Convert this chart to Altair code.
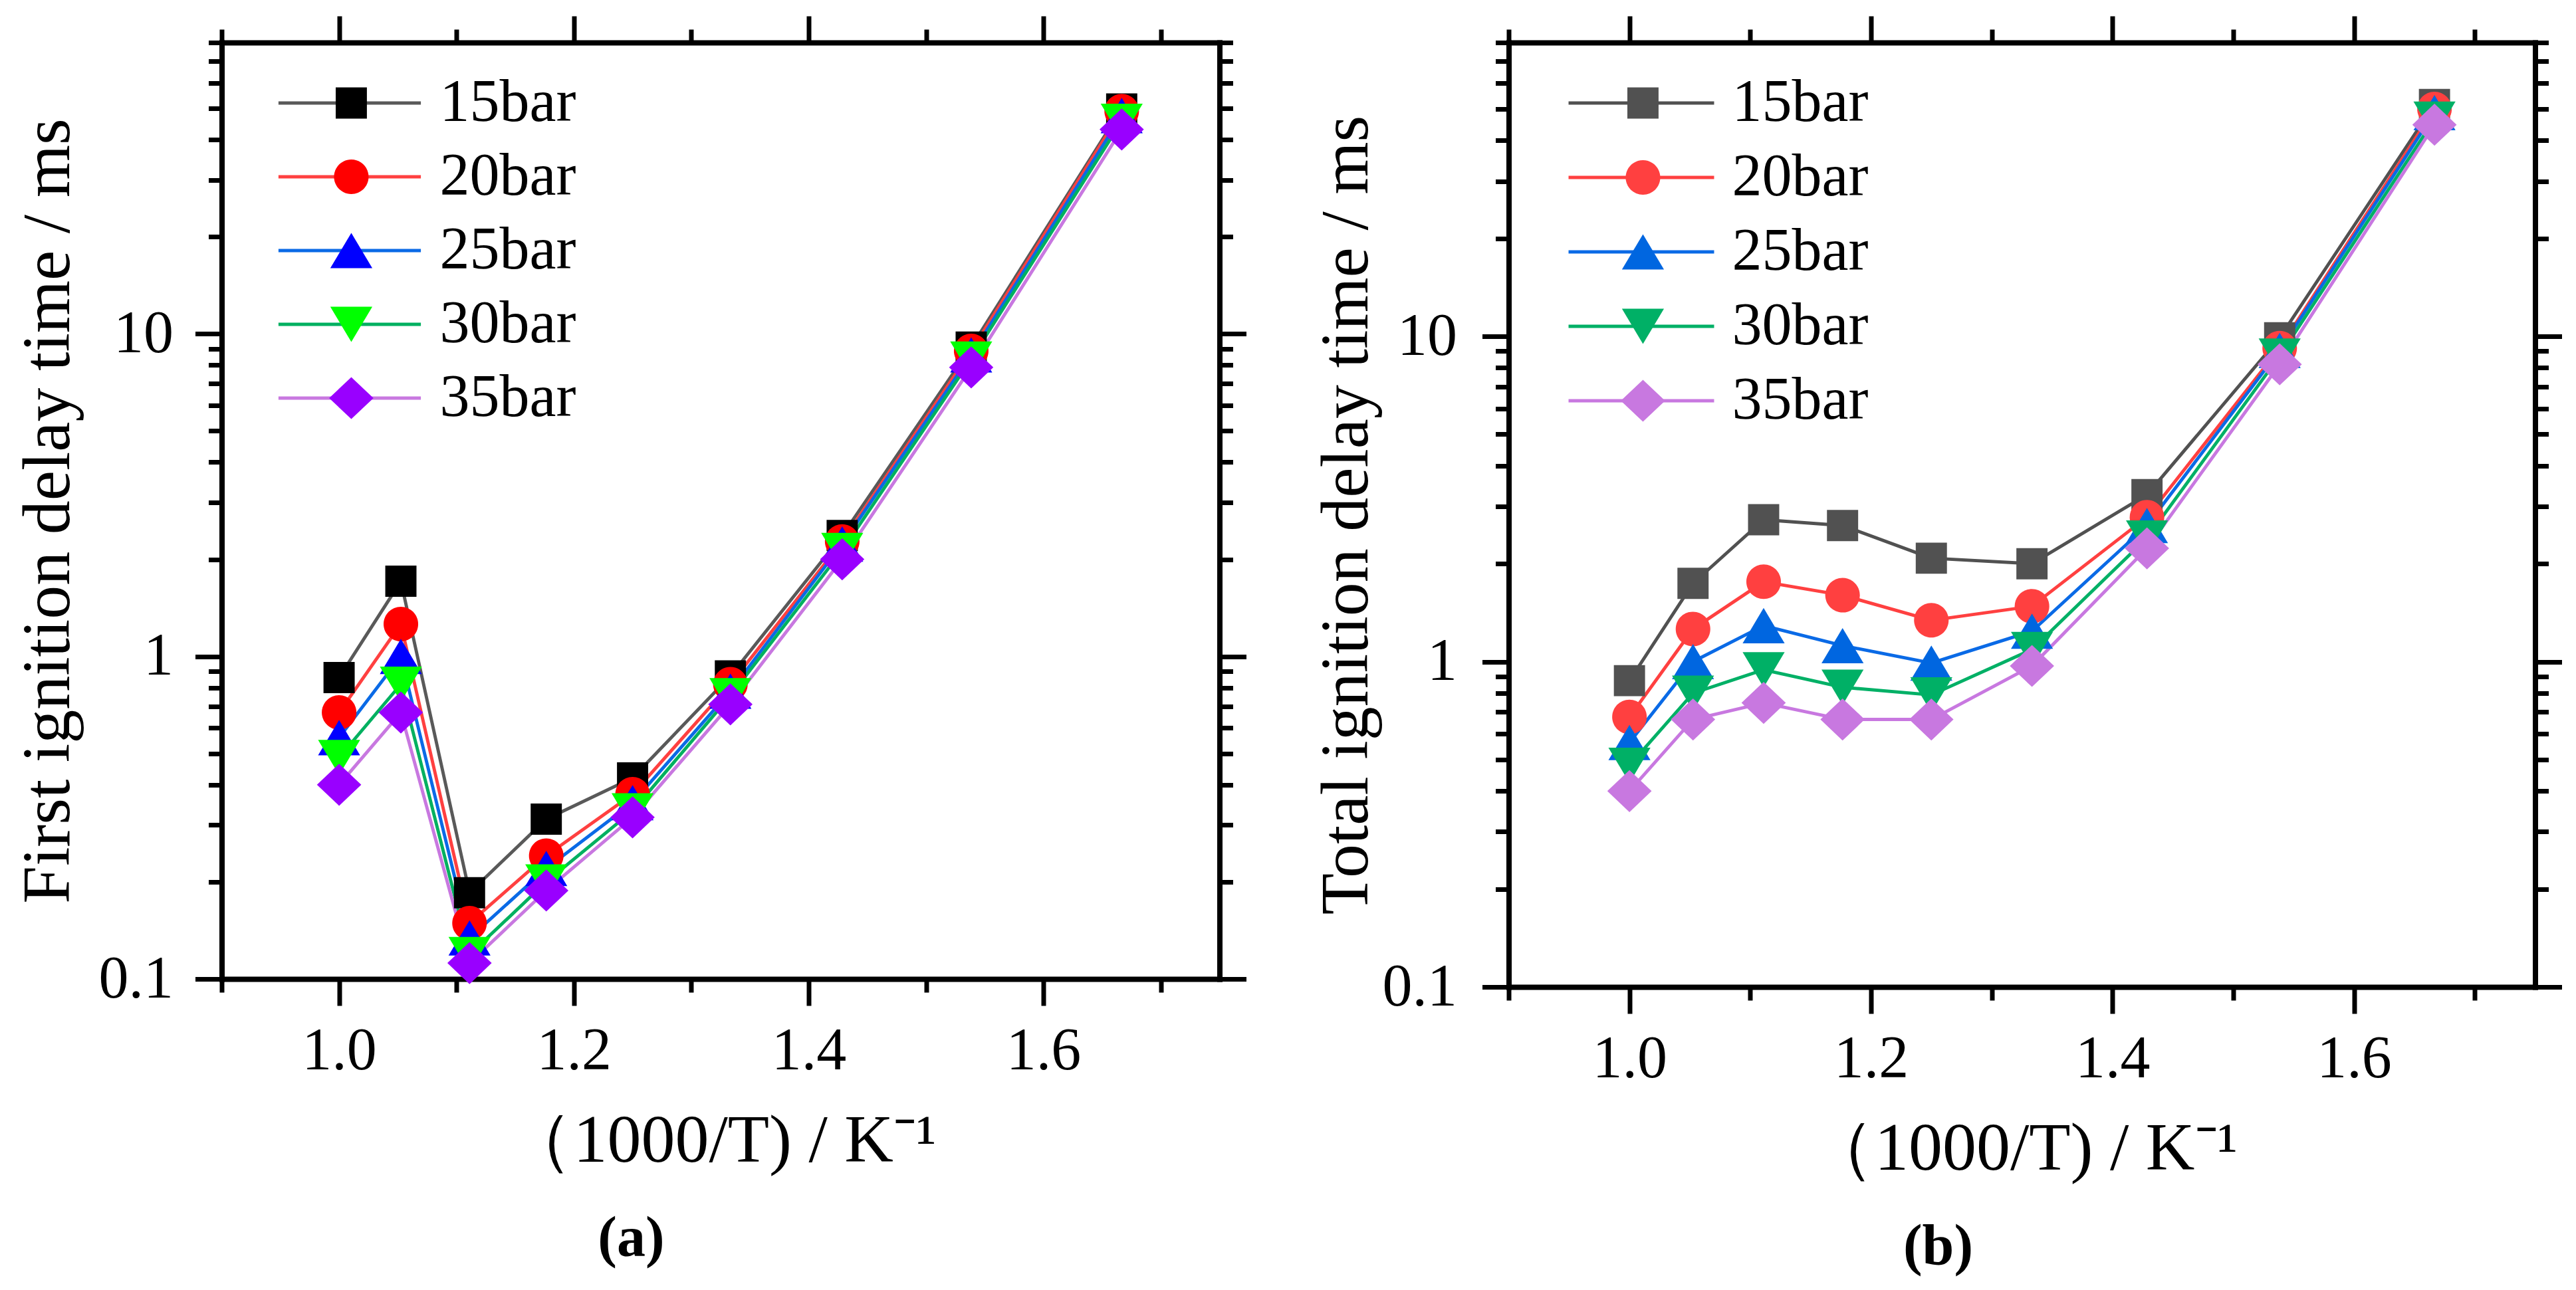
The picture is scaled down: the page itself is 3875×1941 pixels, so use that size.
import altair as alt
import pandas as pd

# ---------------- data ----------------
temps = [1000, 950, 900, 850, 800, 750, 700, 650, 600]
inv_T = [1000.0 / t for t in temps]
pressures = ["15bar", "20bar", "25bar", "30bar", "35bar"]

first_15 = [0.86, 1.71, 0.185, 0.313, 0.42, 0.87, 2.37, 9.1, 49.8]
first_20 = [0.67, 1.26, 0.149, 0.241, 0.374, 0.82, 2.27, 8.85, 49.0]
first_25 = [0.56, 1.0, 0.134, 0.22, 0.352, 0.78, 2.23, 8.6, 47.5]
first_30 = [0.486, 0.82, 0.119, 0.20, 0.332, 0.755, 2.13, 8.35, 45.6]
first_35 = [0.40, 0.67, 0.112, 0.188, 0.317, 0.71, 2.0, 7.87, 43.0]

total_15 = [0.874, 1.74, 2.73, 2.62, 2.08, 2.0, 3.26, 9.9, 51.6]
total_20 = [0.676, 1.26, 1.76, 1.6, 1.34, 1.48, 2.78, 9.2, 50.0]
total_25 = [0.564, 1.0, 1.29, 1.12, 0.99, 1.24, 2.62, 9.05, 48.7]
total_30 = [0.48, 0.80, 0.944, 0.834, 0.79, 1.09, 2.4, 8.7, 46.5]
total_35 = [0.40, 0.664, 0.747, 0.664, 0.664, 0.97, 2.23, 8.2, 44.7]

x_major = [1.0, 1.2, 1.4, 1.6]
x_minor = [0.9, 1.1, 1.3, 1.5, 1.7]
y_major = [0.1, 1, 10]
y_minor = [0.2, 0.3, 0.4, 0.5, 0.6, 0.7, 0.8, 0.9,
           2, 3, 4, 5, 6, 7, 8, 9,
           20, 30, 40, 50, 60, 70, 80]

line_colors_a = ["#595959", "#FF4040", "#0A6AE6", "#00B060", "#C878E0"]
marker_colors_a = ["#000000", "#FF0000", "#0000FF", "#00FF00", "#9900FF"]
line_colors_b = ["#515151", "#FF4040", "#0A6AE6", "#00B066", "#C878E0"]
marker_colors_b = ["#515151", "#FF4040", "#0066E0", "#00B066", "#C878E0"]

shape_paths = [
    "M-0.69,-0.69H0.69V0.69H-0.69Z",
    "M0.765,0A0.765,0.765,0,1,1,-0.765,0A0.765,0.765,0,1,1,0.765,0Z",
    "M0,-0.78L0.93,0.78H-0.93Z",
    "M0,0.78L0.93,-0.78H-0.93Z",
    "M0,-0.93L0.98,0L0,0.93L-0.98,0Z",
]

FONT = "Liberation Serif"
SYM = 4624  # symbol box 68 px


def make_df(series_values):
    rows = []
    for p, vals in zip(pressures, series_values):
        for xv, v in zip(inv_T, vals):
            rows.append({"x": xv, "y": v, "series": p, "series_l": p})
    return pd.DataFrame(rows)


def panel(df, marker_colors, line_colors, ytitle, ylab_pad, ytitle_pad,
          caption, w, h, lx, ly, row_pad, line_path, lab_off):
    xs = alt.Scale(domain=[0.9, 1.75], nice=False, zero=False)
    ys = alt.Scale(type="log", domain=[0.1, 80], nice=False)
    base_ax = dict(domainColor="black", domainWidth=8, tickColor="black",
                   tickWidth=7, grid=False, domainCap="square")

    ax_x_bottom = alt.Axis(orient="bottom", values=x_major, format=".1f",
                           tickSize=40, labelFont=FONT, labelFontSize=90,
                           labelColor="black", labelPadding=24,
                           titleFont=FONT, titleFontSize=102,
                           titleFontWeight="normal", titleColor="black",
                           titlePadding=40, **base_ax)
    ax_y_left = alt.Axis(orient="left", values=y_major, format="~g",
                         tickSize=40, labelFont=FONT, labelFontSize=90,
                         labelColor="black", labelPadding=ylab_pad,
                         titleFont=FONT, titleFontSize=102,
                         titleFontWeight="normal", titleColor="black",
                         titlePadding=ytitle_pad, **base_ax)
    ax_x_top = alt.Axis(orient="top", values=x_major, labels=False,
                        tickSize=40, **base_ax)
    ax_y_right = alt.Axis(orient="right", values=y_major, labels=False,
                          tickSize=40, **base_ax)
    minor_ax = dict(labels=False, tickSize=20, domain=False,
                    tickColor="black", tickWidth=7, grid=False)
    ax_x_bottom_minor = alt.Axis(orient="bottom", values=x_minor, **minor_ax)
    ax_y_left_minor = alt.Axis(orient="left", values=y_minor, **minor_ax)
    ax_x_top_minor = alt.Axis(orient="top", values=x_minor, **minor_ax)
    ax_y_right_minor = alt.Axis(orient="right", values=y_minor, **minor_ax)

    base = alt.Chart(df)

    line_legend = alt.Legend(orient="none", legendX=lx, legendY=ly, title=None,
                             symbolType=line_path, symbolSize=SYM,
                             symbolStrokeWidth=4.9, labelFont=FONT,
                             labelFontSize=90, labelOpacity=0, labelLimit=0,
                             labelOffset=lab_off, rowPadding=row_pad,
                             padding=0)
    point_legend = alt.Legend(orient="none", legendX=lx + 2.45, legendY=ly,
                              title=None, symbolSize=SYM, symbolStrokeWidth=0,
                              labelFont=FONT, labelFontSize=90, labelLimit=0,
                              labelColor="black", labelOffset=lab_off,
                              rowPadding=row_pad, padding=0)

    lines = base.mark_line(strokeWidth=4.9, strokeJoin="round").encode(
        x=alt.X("x:Q", scale=xs, axis=ax_x_bottom, title="（1000/T) / K⁻¹"),
        y=alt.Y("y:Q", scale=ys, axis=ax_y_left, title=ytitle),
        stroke=alt.Stroke("series_l:N",
                          scale=alt.Scale(range=line_colors),
                          legend=line_legend),
        order=alt.Order("x:Q"),
    )
    points = base.mark_point(filled=True, opacity=1, strokeWidth=0,
                             size=SYM).encode(
        x=alt.X("x:Q", scale=xs, axis=ax_x_top, title=None),
        y=alt.Y("y:Q", scale=ys, axis=ax_y_right, title=None),
        fill=alt.Fill("series:N",
                      scale=alt.Scale(domain=pressures, range=marker_colors),
                      legend=point_legend),
        shape=alt.Shape("series:N",
                        scale=alt.Scale(domain=pressures, range=shape_paths),
                        legend=point_legend),
    )
    minor1 = base.mark_point(opacity=0).encode(
        x=alt.X("x:Q", scale=xs, axis=ax_x_bottom_minor, title=None),
        y=alt.Y("y:Q", scale=ys, axis=ax_y_left_minor, title=None),
    )
    minor2 = base.mark_point(opacity=0).encode(
        x=alt.X("x:Q", scale=xs, axis=ax_x_top_minor, title=None),
        y=alt.Y("y:Q", scale=ys, axis=ax_y_right_minor, title=None),
    )
    return (
        alt.layer(lines, points, minor1, minor2)
        .resolve_axis(x="independent", y="independent")
        .properties(
            width=w, height=h,
            title=alt.TitleParams(caption, orient="bottom", font=FONT,
                                  fontSize=86, fontWeight="bold",
                                  color="black", offset=55, frame="bounds",
                                  anchor="middle"),
        )
    )


df_a = make_df([first_15, first_20, first_25, first_30, first_35])
df_b = make_df([total_15, total_20, total_25, total_30, total_35])

pa = panel(df_a, marker_colors_a, line_colors_a,
           "First ignition delay time / ms", 33, 24, "(a)", 1501, 1409,
           147.5, 46, 21, "M-3.15,0H3.15", 88)
pb = panel(df_b, marker_colors_b, line_colors_b,
           "Total ignition delay time / ms", 38, 2, "(b)", 1544, 1421,
           154.5, 46, 22, "M-3.22,0H3.22", 89)

chart = (
    alt.hconcat(pa, pb, spacing=435, bounds="flush")
    .resolve_scale(fill="independent", stroke="independent",
                   shape="independent", x="independent", y="independent")
    .resolve_legend(fill="independent", stroke="independent",
                    shape="independent")
    .configure_view(stroke=None)
    .properties(padding={"left": 12.5, "top": 12, "right": 5, "bottom": 5},
                background="white")
)

chart.save("out.html", embed_options={"renderer": "svg", "actions": False})
